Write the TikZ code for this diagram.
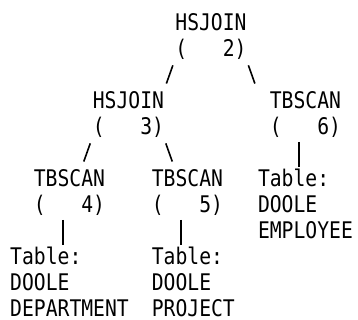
\documentclass[tikz,border=0pt]{standalone}
\usepackage{fontspec}
\newfontfamily\planfont[FakeStretch=0.86]{DejaVu Sans Mono}
\usetikzlibrary{positioning}
\tikzset{
  op/.style={font=\planfont\fontsize{22.9}{26}\selectfont,anchor=base west,inner sep=0pt,align=left},
  link/.style={line width=1.6pt},
}
\begin{document}
\begin{tikzpicture}[x=11.8pt,y=-26pt]
  \useasboundingbox (-0.85,-1.173) rectangle (29.49,11.135);
  % operators (base = last line)
  \node[op] (j2) at (14,1) {HSJOIN\\(\ \ \ 2)};
  \node[op] (j3) at (7,4) {HSJOIN\\(\ \ \ 3)};
  \node[op] (s6) at (22,4) {TBSCAN\\(\ \ \ 6)};
  \node[op] (s4) at (2,7) {TBSCAN\\(\ \ \ 4)};
  \node[op] (s5) at (12,7) {TBSCAN\\(\ \ \ 5)};
  % tables
  \node[op] (t6) at (21,8) {Table:\\DOOLE\\EMPLOYEE};
  \node[op] (t4) at (0,11) {Table:\\DOOLE\\DEPARTMENT};
  \node[op] (t5) at (12,11) {Table:\\DOOLE\\PROJECT};
  % links
  \draw[link] ([shift={(-0.2,0.34)}]j2.base west) -- ([shift={(6.25,-1.96)}]j3.base west);
  \draw[link] ([shift={(6.2,0.34)}]j2.base west) -- ([shift={(-1.25,-1.96)}]s6.base west);
  \draw[link] ([shift={(-0.2,0.34)}]j3.base west) -- ([shift={(4.25,-1.96)}]s4.base west);
  \draw[link] ([shift={(6.2,0.34)}]j3.base west) -- ([shift={(1.75,-1.96)}]s5.base west);
  \draw[link] ([shift={(2.5,0.28)}]s6.base west) -- ([shift={(3.5,-2.75)}]t6.base west);
  \draw[link] ([shift={(2.5,0.28)}]s4.base west) -- ([shift={(4.5,-2.75)}]t4.base west);
  \draw[link] ([shift={(2.5,0.28)}]s5.base west) -- ([shift={(2.5,-2.75)}]t5.base west);
\end{tikzpicture}
\end{document}
